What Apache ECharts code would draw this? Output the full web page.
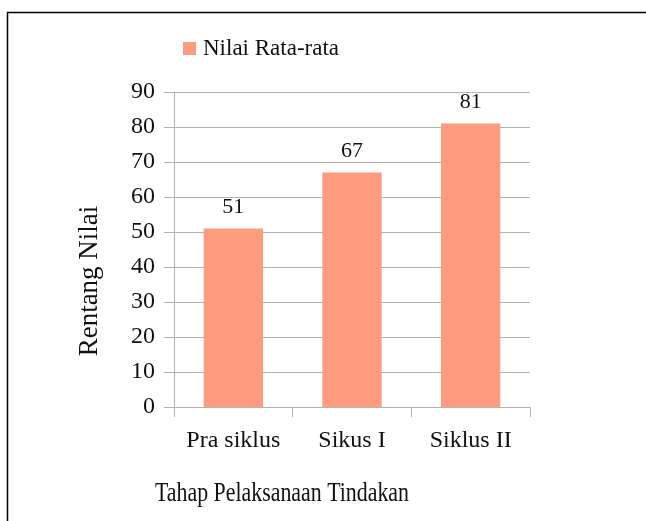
<!DOCTYPE html>
<html><head><meta charset="utf-8">
<script src="https://cdn.jsdelivr.net/npm/echarts@6/dist/echarts.min.js"></script>
<style>html,body{margin:0;padding:0;background:#fff}#c{width:646px;height:521px}</style>
</head><body><div id="c"></div>
<script>
var categories = ['Pra siklus', 'Sikus I', 'Siklus II'];
var values = [51, 67, 81];
var seriesName = 'Nilai Rata-rata';
var yTicks = {min: 0, max: 90, interval: 10};
var xTitle = 'Tahap Pelaksanaan Tindakan';
var yTitle = 'Rentang Nilai';
var F = 'Liberation Serif, Times New Roman, serif';
var chart = echarts.init(document.getElementById('c'), null, {renderer: 'canvas'});
chart.setOption({
  animation: false,
  backgroundColor: '#fff',
  graphic: [
    {type: 'rect', shape: {x: 7.5, y: 12.5, width: 800, height: 700}, style: {fill: 'none', stroke: '#000', lineWidth: 1.5}, z: 0},
    {type: 'text', x: 90, y: 281, rotation: Math.PI / 2,
      style: {text: yTitle, fontFamily: F, fontSize: 27, fill: '#111', align: 'center', verticalAlign: 'middle'}},
    {type: 'text', x: 155, y: 494, scaleX: 0.81,
      style: {text: xTitle, fontFamily: F, fontSize: 27, fill: '#111', align: 'left', verticalAlign: 'middle'}}
  ],
  legend: {show: true, left: 183, top: 37, padding: 0, itemWidth: 13, itemHeight: 13, icon: 'rect',
    textStyle: {fontFamily: F, fontSize: 23, color: '#111', padding: [0, 0, 0, 2]}, data: [seriesName]},
  grid: {left: 174, right: 116, top: 92, bottom: 114},
  xAxis: {type: 'category', data: categories, boundaryGap: true,
    axisLine: {lineStyle: {color: '#b3b3b3', width: 1}},
    axisTick: {show: true, length: 10, interval: 0, lineStyle: {color: '#b3b3b3'}},
    axisLabel: {fontFamily: F, fontSize: 24, color: '#111', margin: 22, interval: 0, hideOverlap: false}},
  yAxis: {type: 'value', min: yTicks.min, max: yTicks.max, interval: yTicks.interval,
    axisLine: {show: true, lineStyle: {color: '#b3b3b3', width: 1}},
    axisTick: {show: true, length: 10, lineStyle: {color: '#b3b3b3'}},
    splitLine: {lineStyle: {color: '#b3b3b3', width: 1}},
    axisLabel: {fontFamily: F, fontSize: 24, color: '#111', margin: 19}},
  series: [{type: 'bar', name: seriesName, data: values, barWidth: '50%',
    itemStyle: {color: '#ff9b7f'},
    label: {show: true, position: 'top', distance: 10, fontFamily: F, fontSize: 22, color: '#111'}}]
});
</script></body></html>
